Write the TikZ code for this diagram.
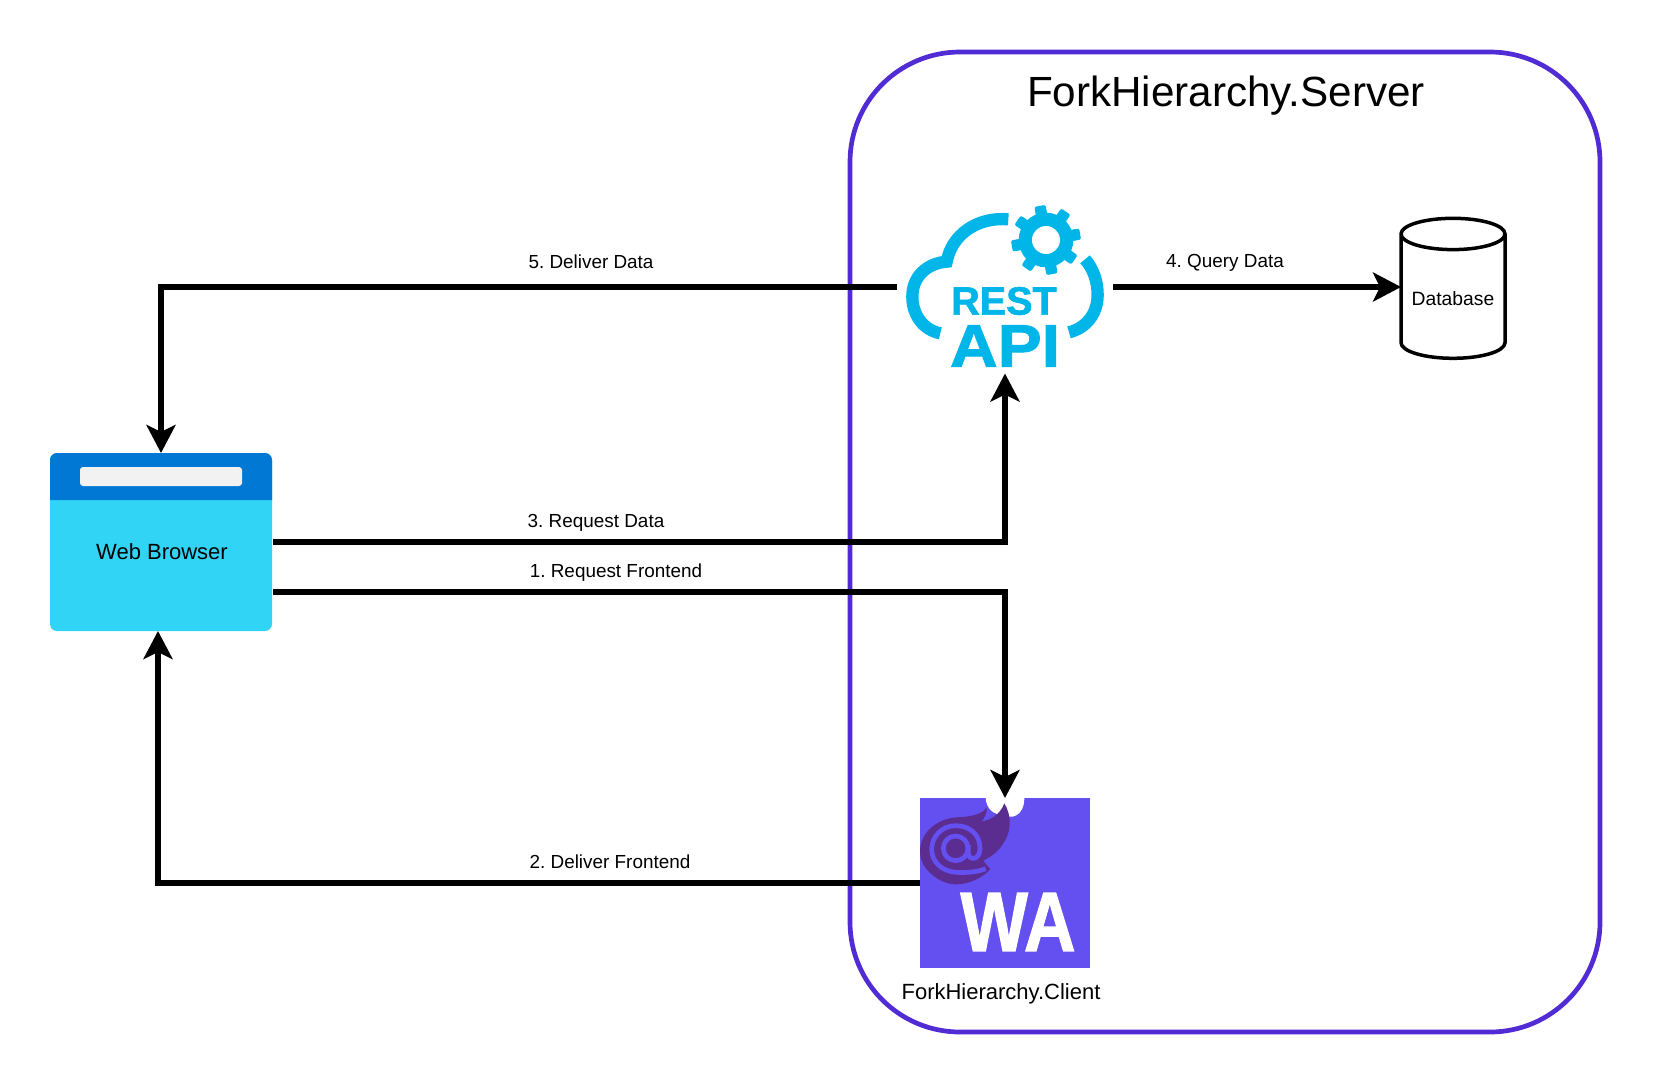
\documentclass[tikz,border=0pt]{standalone}
\usepackage{fontspec}
\setmainfont{Liberation Sans}
\newfontfamily\iconfont[FakeBold=1.6]{Liberation Sans}
\usepackage{tikz}
\usetikzlibrary{positioning}
\usetikzlibrary{calc}
\usetikzlibrary{arrows.meta}
\usetikzlibrary{shapes.geometric}

\definecolor{serverpurple}{HTML}{512BD4}
\definecolor{browsertop}{HTML}{0078D4}
\definecolor{browserbody}{HTML}{32D4F5}
\definecolor{barwhite}{HTML}{F2F2F2}
\definecolor{apiblue}{HTML}{00B5E8}
\definecolor{wapurple}{HTML}{644FF0}
\definecolor{flamepurple}{HTML}{5C2D91}

\tikzset{
	flow/.style={line width=6.8pt, -{Stealth[length=28pt, width=29pt, inset=7pt]}},
	flowlabel/.style={font=\fontsize{18.9}{20}\selectfont, inner sep=0pt},
	iconbox/.style={inner sep=0pt, outer sep=0pt}
}

\begin{document}
\frenchspacing
\begin{tikzpicture}[x=1pt, y=-1pt]
		\useasboundingbox (0,0) rectangle (1653,1085);
		\draw[serverpurple, line width=4.7pt, rounded corners=110pt] (850,52) rectangle (1600,1032);
		\node[inner sep=0pt, font=\fontsize{42.2}{46}\selectfont] (servertitle) at (1226,96) {ForkHierarchy.Server};

		% browser
		\node[iconbox, fill=browserbody, rounded corners=7pt, minimum width=222pt, minimum height=178pt] (browser) at (161,542) {};
		\fill[browsertop] (50,500) [rounded corners=7pt] -- (50,453) -- (272,453) [sharp corners] -- (272,500) -- cycle;
		\fill[browsertop] (50,470) rectangle (272,500);
		\fill[barwhite, rounded corners=3pt] (80,467) rectangle (242,486);
		\node[inner sep=0pt, font=\fontsize{22}{24}\selectfont] (browsertext) at (162,552) {Web Browser};

		% rest api
		\node[iconbox, minimum width=216pt, minimum height=173pt] (restapi) at (1005,287) {};
		\begin{scope}[shift={(880,180)}, x=0.3333pt, y=-0.3333pt]
			\draw[apiblue, line width=12.3pt] (181,460) .. controls (130,450) and (97,405) .. (97,350) .. controls (97,290) and (140,250) .. (200,245) .. controls (215,165) and (290,110) .. (385,118);
			\draw[apiblue, line width=12.3pt] (615,238) .. controls (640,265) and (653,305) .. (653,345) .. controls (653,405) and (615,445) .. (567,457);
			\fill[apiblue] (498,180) circle[radius=82];
			\foreach \a in {80,35,-10,-55,-100,-145,170,125} {
				\fill[apiblue, rounded corners=2pt, rotate around={-\a:(498,180)}] (498,163) rectangle (602,197);
			}
			\fill[white] (498,180) circle[radius=42];
		\end{scope}
		\node[inner sep=0pt, text=apiblue, font=\iconfont\bfseries\fontsize{39.5}{42}\selectfont] (resttext) at (1004,301) {REST};
		\node[inner sep=0pt, text=apiblue, xscale=1.1, font=\iconfont\bfseries\fontsize{60}{62}\selectfont] (apitext) at (1005,346) {API};

		% database
		\node[draw, line width=3.5pt, outer sep=0pt, cylinder, shape border rotate=90, aspect=0.375, minimum width=104pt, minimum height=140pt, inner sep=0pt, font=\fontsize{19.5}{21}\selectfont] (database) at (1453,297) {\phantom{Database}};
		\node[inner sep=0pt, font=\fontsize{19.3}{21}\selectfont] (databasetext) at (1453,299) {Database};

		% client
		\node[iconbox, fill=wapurple, minimum width=170pt, minimum height=170pt] (client) at (1005,883) {};
		\begin{scope}[shift={(915,790)}, x=0.3333pt, y=-0.3333pt]
			\fill[white] (212,24) .. controls (214,55) and (235,78) .. (268,72) .. controls (285,90) and (328,80) .. (328,24) -- cycle;
			\fill[flamepurple] (268,40) .. controls (290,75) and (290,125) .. (265,160) .. controls (250,185) and (228,200) .. (205,212) .. controls (215,225) and (222,232) .. (226,238) .. controls (190,275) and (130,295) .. (85,275) .. controls (40,255) and (15,220) .. (15,185) .. controls (15,125) and (70,85) .. (125,82) .. controls (165,80) and (200,75) .. (216,52) .. controls (216,70) and (208,85) .. (200,95) .. controls (225,90) and (255,75) .. (268,40) -- cycle;
			\draw[wapurple, line width=4.7pt] (122,175) circle[radius=37];
			\draw[wapurple, line width=4.7pt] (160,165) -- (160,190) .. controls (160,212) and (195,212) .. (195,175) .. controls (195,130) and (160,107) .. (122,107) .. controls (80,107) and (50,140) .. (50,178) .. controls (50,215) and (80,245) .. (125,247) .. controls (160,249) and (190,245) .. (212,236);
		\end{scope}
		\node[inner sep=0pt, text=white, xscale=0.85, font=\iconfont\bfseries\fontsize{84}{86}\selectfont] (watext) at (1018,922) {WA};
		\node[inner sep=0pt, font=\fontsize{22}{24}\selectfont] (clienttext) at (1001,994) {ForkHierarchy.Client};

		% connectors
		\draw[flow] (restapi.west) -- (browser.north |- restapi.west) -- (browser.north);
		\draw[flow] (restapi.east) -- (database.west |- restapi.east);
		\draw[flow] ([xshift=1pt]browser.east) -| (restapi.south);
		\draw[flow] ([xshift=1pt, yshift=-50pt]browser.east) -| (client.north);
		\draw[flow] (client.west) -| ([xshift=-3pt]browser.south);

		% labels
		\node[flowlabel] (deliverdata) at (591,262) {5. Deliver Data};
		\node[flowlabel] (querydata) at (1225,263) {4. Query Data};
		\node[flowlabel] (requestdata) at (596,523) {3. Request Data};
		\node[flowlabel] (requestfrontend) at (616,573) {1. Request Frontend};
		\node[flowlabel] (deliverfrontend) at (610,862) {2. Deliver Frontend};
	\end{tikzpicture}
\end{document}
